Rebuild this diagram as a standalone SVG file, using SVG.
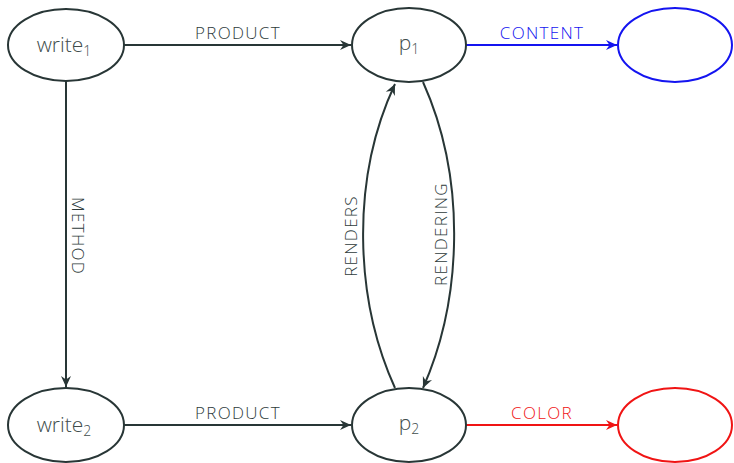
<svg xmlns="http://www.w3.org/2000/svg" width="734" height="463" viewBox="0 0 734 463">
  <style>
    .node { fill: #ffffff; stroke: #283636; stroke-width: 2; }
    .node.blue { stroke: #1414f0; }
    .node.red { stroke: #f01414; }
    .name { font-family: "Open Sans", "Liberation Sans", sans-serif; font-size: 21px; font-weight: 300; fill: #404c4c; text-anchor: middle; }
    .sub { font-size: 14px; }
    .edge { fill: none; stroke: #283636; stroke-width: 2; }
    .edge.blue { stroke: #1414f0; }
    .edge.red { stroke: #f01414; }
    .label { font-family: "Open Sans", "Liberation Sans", sans-serif; font-size: 17px; font-weight: 300; letter-spacing: 1.3px; fill: #2e3b3b; text-anchor: middle; }
    .label.blue { fill: #1414f0; }
    .label.red { fill: #f01414; }
  </style>
  <defs>
    <marker id="arrow" markerUnits="userSpaceOnUse" markerWidth="13" markerHeight="13" viewBox="0 0 13 13" refX="12" refY="6.5" orient="auto">
      <path d="M1,1.5 L12,6.5 L1,11.5 L4.5,6.5 Z" fill="#283636"/>
    </marker>
    <marker id="arrow-blue" markerUnits="userSpaceOnUse" markerWidth="13" markerHeight="13" viewBox="0 0 13 13" refX="12" refY="6.5" orient="auto">
      <path d="M1,1.5 L12,6.5 L1,11.5 L4.5,6.5 Z" fill="#1414f0"/>
    </marker>
    <marker id="arrow-red" markerUnits="userSpaceOnUse" markerWidth="13" markerHeight="13" viewBox="0 0 13 13" refX="12" refY="6.5" orient="auto">
      <path d="M1,1.5 L12,6.5 L1,11.5 L4.5,6.5 Z" fill="#f01414"/>
    </marker>
  </defs>

  <g id="connectors">
    <path class="edge" d="M124,45 L351,45" marker-end="url(#arrow)"/>
    <path class="edge blue" d="M466,45 L617,45" marker-end="url(#arrow-blue)"/>
    <path class="edge" d="M66,81 L66,387" marker-end="url(#arrow)"/>
    <path class="edge" d="M124,425 L351,425" marker-end="url(#arrow)"/>
    <path class="edge red" d="M466,425 L617,425" marker-end="url(#arrow-red)"/>
    <path class="edge" d="M395,388 C355,300 350,180 395,84" marker-end="url(#arrow)"/>
    <path class="edge" d="M423,82 C467,180 462,300 423,388" marker-end="url(#arrow)"/>

    <text class="label" x="238" y="39">PRODUCT</text>
    <text class="label blue" x="542" y="39">CONTENT</text>
    <text class="label" x="238" y="419">PRODUCT</text>
    <text class="label red" x="542" y="419">COLOR</text>
    <text class="label" transform="translate(72,236) rotate(90)">METHOD</text>
    <text class="label" transform="translate(357,236) rotate(-90)">RENDERS</text>
    <text class="label" transform="translate(447,234) rotate(-90)">RENDERING</text>
  </g>

  <g id="write1">
    <ellipse class="node" cx="66" cy="45" rx="58" ry="36"/>
    <text class="name" x="64" y="52">write<tspan class="sub" dy="4">1</tspan></text>
  </g>
  <g id="p1">
    <ellipse class="node" cx="409" cy="45" rx="57" ry="37"/>
    <text class="name" x="409" y="50">p<tspan class="sub" dy="4">1</tspan></text>
  </g>
  <g id="content">
    <ellipse class="node blue" cx="675" cy="45" rx="57" ry="37"/>
  </g>
  <g id="write2">
    <ellipse class="node" cx="66" cy="425" rx="58" ry="37"/>
    <text class="name" x="64" y="432">write<tspan class="sub" dy="4">2</tspan></text>
  </g>
  <g id="p2">
    <ellipse class="node" cx="409" cy="425" rx="57" ry="37"/>
    <text class="name" x="409" y="430">p<tspan class="sub" dy="4">2</tspan></text>
  </g>
  <g id="color">
    <ellipse class="node red" cx="675" cy="425" rx="57" ry="37"/>
  </g>
</svg>
